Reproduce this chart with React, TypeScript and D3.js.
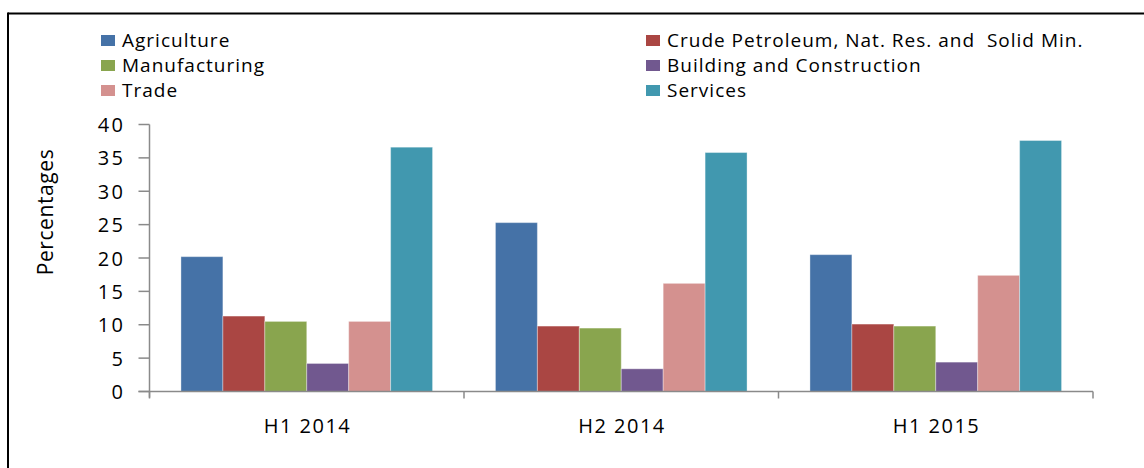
import React from "react";
import * as d3 from "d3";

const periods = ["H1 2014", "H2 2014", "H1 2015"];
const sectors = [
  "Agriculture",
  "Crude Petroleum, Nat. Res. and  Solid Min.",
  "Manufacturing",
  "Building and Construction",
  "Trade",
  "Services",
];
const colors = ["#4572A7", "#AA4643", "#89A54E", "#71588F", "#D4918F", "#4198AF"];
const agriculture = [20.2, 25.3, 20.5];
const crude = [11.3, 9.8, 10.1];
const manufacturing = [10.5, 9.5, 9.8];
const building = [4.2, 3.4, 4.4];
const trade = [10.5, 16.2, 17.4];
const services = [36.6, 35.8, 37.6];
const seriesValues = [agriculture, crude, manufacturing, building, trade, services];
const yTicks = [0, 5, 10, 15, 20, 25, 30, 35, 40];

const W = 1144;
const H = 468;
const left = 149.5;
const right = 1093;
const top = 124.5;
const bottom = 391.5;

export default function App() {
  const x0 = d3.scaleBand<string>().domain(periods).range([left, right]).paddingInner(0).paddingOuter(0);
  const x1 = d3
    .scaleBand<string>()
    .domain(sectors)
    .range([0, x0.bandwidth()])
    .paddingOuter(0.75)
    .paddingInner(0);
  const y = d3.scaleLinear().domain([0, 40]).range([bottom, top]);
  const font = "'Open Sans', 'DejaVu Sans', sans-serif";
  const axisColor = "#8a8a8a";

  const legendPos = [
    { x: 101, y: 40 },
    { x: 646, y: 40 },
    { x: 101, y: 65 },
    { x: 646, y: 65 },
    { x: 101, y: 90 },
    { x: 646, y: 90 },
  ];

  return (
    <svg
      width={W}
      height={H}
      style={{ position: "absolute", left: 0, top: 0, background: "#fff" }}
      fontFamily={font}
    >
      <rect x={0} y={0} width={W} height={H} fill="#fff" />
      {/* border */}
      <line x1={8} y1={13.5} x2={W} y2={13.5} stroke="#000" strokeWidth={2} />
      <line x1={8} y1={12.5} x2={8} y2={H} stroke="#000" strokeWidth={2} />

      {/* legend */}
      {sectors.map((s, i) => (
        <g key={s}>
          <rect x={legendPos[i].x} y={legendPos[i].y - 5} width={14} height={11} fill={colors[i]} />
          <text
            x={legendPos[i].x + 21}
            y={legendPos[i].y}
            dominantBaseline="central"
            fontSize={19}
            letterSpacing={1}
            fill="#000"
            style={{ whiteSpace: "pre" }}
          >
            {s}
          </text>
        </g>
      ))}

      {/* bars */}
      {periods.map((p, pi) => (
        <g key={p} transform={`translate(${x0(p)},0)`}>
          {sectors.map((s, si) => {
            const v = seriesValues[si][pi];
            return (
              <rect
                key={s}
                x={x1(s)}
                y={y(v)}
                width={x1.bandwidth()}
                height={y(0) - y(v)}
                fill={colors[si]}
                stroke="rgba(255,255,255,0.35)"
                strokeWidth={1}
              />
            );
          })}
        </g>
      ))}

      {/* y axis */}
      <line x1={left} y1={top} x2={left} y2={bottom + 6} stroke={axisColor} strokeWidth={1.5} />
      {yTicks.map((t) => (
        <g key={t}>
          <line x1={left - 11} x2={left} y1={y(t)} y2={y(t)} stroke={axisColor} strokeWidth={1.5} />
          <text
            x={125.5}
            y={y(t)}
            textAnchor="end"
            dominantBaseline="central"
            fontSize={20}
            letterSpacing={2.5}
            fill="#000"
          >
            {t}
          </text>
        </g>
      ))}

      {/* x axis */}
      <line x1={left - 11} x2={right} y1={bottom} y2={bottom} stroke={axisColor} strokeWidth={1.5} />
      {[...periods.map((p) => x0(p) as number), right].map((xv, i) => (
        <line key={i} x1={xv} x2={xv} y1={bottom} y2={bottom + 7} stroke={axisColor} strokeWidth={1.5} />
      ))}
      {periods.map((p) => (
        <text
          key={p}
          x={(x0(p) as number) + x0.bandwidth() / 2 + 0.75}
          y={425}
          textAnchor="middle"
          dominantBaseline="central"
          fontSize={20}
          letterSpacing={1.5}
          fill="#000"
        >
          {p}
        </text>
      ))}

      {/* y label */}
      <text
        transform={`translate(45,${(top + bottom) / 2 - 46}) rotate(-90)`}
        textAnchor="middle"
        dominantBaseline="central"
        fontSize={21}
        letterSpacing={0.6}
        fill="#000"
      >
        Percentages
      </text>
    </svg>
  );
}
